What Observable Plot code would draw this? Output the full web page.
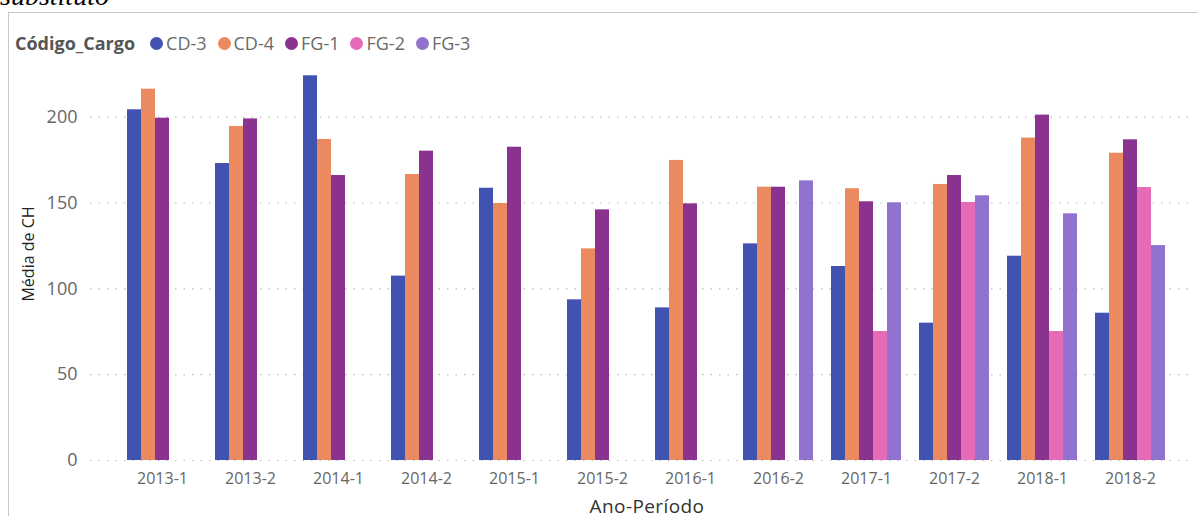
<!DOCTYPE html>
<html>
<head>
<meta charset="utf-8">
<script src="https://cdn.jsdelivr.net/npm/d3@7"></script>
<script src="https://cdn.jsdelivr.net/npm/@observablehq/plot@0.6"></script>
<style>
  html, body { margin: 0; padding: 0; background: #fff; }
  #wrap { position: relative; width: 1198px; height: 516px; overflow: hidden; font-family: "Open Sans", sans-serif; }
  #toptext { position: absolute; left: 0; top: -18px; font: italic 28px/28px "Liberation Serif", serif; color: #000; white-space: nowrap; }
  #frame { position: absolute; left: 8px; top: 12px; width: 1200px; height: 520px; border-top: 1px solid #c6c6c6; border-left: 1px solid #c6c6c6; box-sizing: border-box; }
  #legend { position: absolute; left: 15px; top: 30px; height: 26px; display: flex; align-items: center; white-space: nowrap; }
  #legend .title { font-weight: 700; font-size: 18px; color: #555; margin-right: 15px; }
  #legend .item { display: flex; align-items: center; font-size: 18px; color: #6a6a6a; margin-right: 11px; }
  #legend .dot { width: 13px; height: 13px; border-radius: 50%; margin-right: 3px; }
  #grid, #chart { position: absolute; left: 0; top: 0; }
  #ytitle { position: absolute; left: 28px; top: 254px; transform: translate(-50%, -50%) rotate(-90deg); font-size: 16px; color: #252525; white-space: nowrap; }
  #xtitle { position: absolute; left: 647px; top: 506px; transform: translate(-50%, -50%); font-size: 19px; letter-spacing: 0.4px; color: #333; white-space: nowrap; }
</style>
</head>
<body>
<div id="wrap">
  <div id="toptext">substituto</div>
  <div id="frame"></div>
  <div id="grid"></div>
  <div id="chart"></div>
  <div id="legend"></div>
  <div id="ytitle">Média de CH</div>
  <div id="xtitle">Ano-Período</div>
</div>
<script>
const legendTitle = "Código_Cargo";
const periods = ["2013-1","2013-2","2014-1","2014-2","2015-1","2015-2","2016-1","2016-2","2017-1","2017-2","2018-1","2018-2"];
const series = ["CD-3","CD-4","FG-1","FG-2","FG-3"];
const colors = ["#4252B1","#EB8A5F","#8A3290","#E66BB7","#9173CF"];
const cd3 = [204.3,173.0,224.1,107.4,158.6,93.6,88.9,126.2,113.0,80.0,119.0,85.8];
const cd4 = [216.3,194.6,187.0,166.6,149.7,123.3,174.8,159.2,158.3,160.8,187.8,179.0];
const fg1 = [199.4,199.0,166.0,180.2,182.5,146.0,149.5,159.2,150.7,166.0,201.2,186.8];
const fg2 = [null,null,null,null,null,null,null,null,75.1,150.3,75.1,159.0];
const fg3 = [null,null,null,null,null,null,null,162.9,150.1,154.2,143.7,125.2];
const yTicks = [0,50,100,150,200];

const valuesBySeries = [cd3, cd4, fg1, fg2, fg3];
const rows = [];
periods.forEach((p, i) => {
  series.forEach((s, j) => {
    const v = valuesBySeries[j][i];
    if (v != null) rows.push({period: p, series: s, value: v});
  });
});

// legend
const legend = d3.select("#legend");
legend.append("span").attr("class", "title").text(legendTitle);
series.forEach((s, j) => {
  const it = legend.append("span").attr("class", "item");
  it.append("span").attr("class", "dot").style("background", colors[j]);
  it.append("span").text(s);
});

const common = { width: 1198, height: 516, marginTop: 48, marginBottom: 56 };

// continuous dotted gridlines (unfaceted, same y scale)
const grid = Plot.plot({
  ...common,
  marginLeft: 90,
  marginRight: 6,
  style: { background: "transparent" },
  y: { domain: [0, 240], axis: null },
  marks: [
    Plot.ruleY(yTicks, { stroke: "#bdbdbd", strokeWidth: 1.2, strokeDasharray: "1.5,7" })
  ]
});
document.getElementById("grid").appendChild(grid);

const chart = Plot.plot({
  ...common,
  marginLeft: 125,
  marginRight: 30,
  style: { fontFamily: "'Open Sans', sans-serif", background: "transparent" },
  fx: { domain: periods, paddingInner: 0.2, paddingOuter: 0, label: null },
  x: { domain: series, padding: 0, axis: null },
  y: { domain: [0, 240], label: null },
  color: { domain: series, range: colors },
  marks: [
    Plot.barY(rows, { fx: "period", x: "series", y: "value", fill: "series" }),
    Plot.axisY({ ticks: yTicks, tickSize: 0, tickPadding: 50, fontSize: 18, color: "#666", label: null }),
    Plot.axisFx({ anchor: "bottom", tickSize: 0, tickPadding: 12, fontSize: 16, color: "#666", label: null })
  ]
});
document.getElementById("chart").appendChild(chart);
</script>
</body>
</html>
